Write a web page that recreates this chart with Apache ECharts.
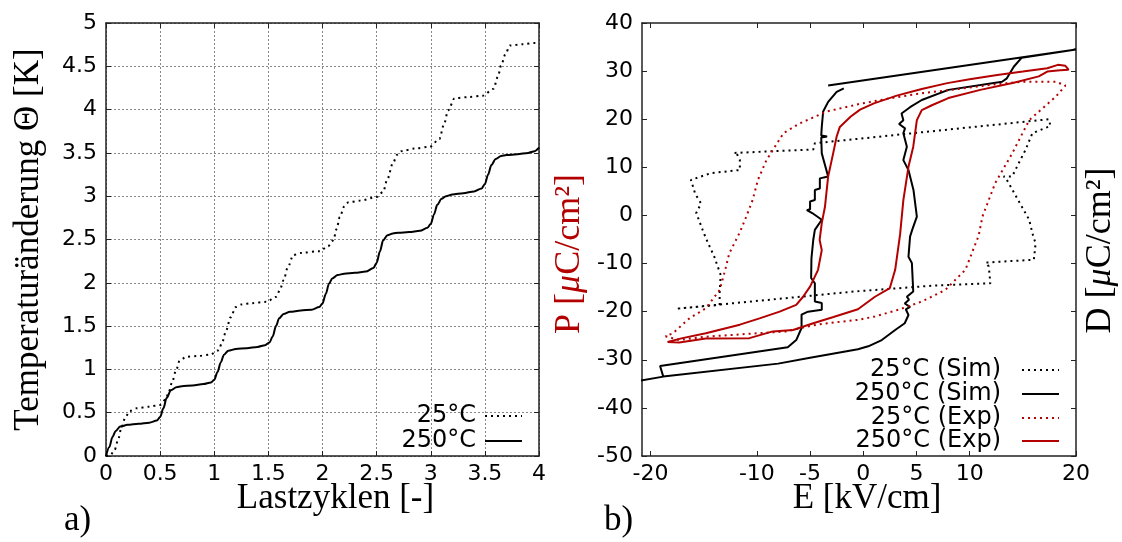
<!DOCTYPE html>
<html>
<head>
<meta charset="utf-8">
<title>Temperatur und Hysterese</title>
<script src="https://cdn.jsdelivr.net/npm/echarts@6/dist/echarts.min.js"></script>
<style>
  html, body { margin: 0; padding: 0; background: #fff; }
  #chart { width: 1122px; height: 542px; }
</style>
</head>
<body>
<div id="chart"></div>
<script>
// a) Temperaturänderung über Lastzyklen
var cycles250 = [0, 0.03, 0.06, 0.09, 0.13, 0.2, 0.3, 0.4, 0.47, 0.5, 0.53, 0.56, 0.6, 0.65, 0.7, 0.8, 0.9, 0.97,
  1.0, 1.03, 1.06, 1.09, 1.13, 1.2, 1.3, 1.4, 1.47, 1.51, 1.54, 1.57, 1.6, 1.64, 1.7, 1.8, 1.9, 1.97,
  2.0, 2.03, 2.06, 2.09, 2.14, 2.2, 2.3, 2.4, 2.47, 2.5, 2.53, 2.56, 2.6, 2.65, 2.7, 2.8, 2.9, 2.97,
  3.0, 3.03, 3.06, 3.1, 3.14, 3.2, 3.3, 3.4, 3.47, 3.5, 3.53, 3.56, 3.6, 3.65, 3.7, 3.8, 3.9, 3.96, 4.0];
var temp250 = [0, 0.1, 0.22, 0.29, 0.34, 0.36, 0.372, 0.385, 0.41, 0.45, 0.55, 0.67, 0.76, 0.795, 0.805, 0.815, 0.83, 0.85,
  0.88, 0.97, 1.08, 1.17, 1.215, 1.235, 1.245, 1.26, 1.28, 1.31, 1.38, 1.5, 1.59, 1.64, 1.665, 1.68, 1.69, 1.72,
  1.76, 1.87, 1.99, 2.05, 2.09, 2.105, 2.115, 2.13, 2.17, 2.23, 2.36, 2.49, 2.55, 2.57, 2.578, 2.586, 2.6, 2.635,
  2.68, 2.79, 2.9, 2.97, 3.0, 3.02, 3.035, 3.055, 3.09, 3.14, 3.25, 3.36, 3.43, 3.465, 3.475, 3.485, 3.5, 3.52, 3.56];

var cycles25 = [0, 0.04, 0.08, 0.11, 0.145, 0.18, 0.22, 0.28, 0.4, 0.5, 0.55, 0.58, 0.61, 0.645, 0.68, 0.74, 0.85, 0.96,
  1.04, 1.075, 1.11, 1.15, 1.2, 1.25, 1.35, 1.48, 1.575, 1.61, 1.64, 1.68, 1.73, 1.8, 1.975,
  2.05, 2.1, 2.13, 2.16, 2.2, 2.24, 2.35, 2.5, 2.56, 2.6, 2.65, 2.69, 2.73, 2.85, 2.99,
  3.08, 3.12, 3.16, 3.22, 3.35, 3.48, 3.58, 3.62, 3.65, 3.69, 3.73, 3.85, 3.97, 4.0];
var temp25 = [0, 0.01, 0.07, 0.18, 0.34, 0.45, 0.52, 0.55, 0.57, 0.59, 0.65, 0.74, 0.85, 0.98, 1.1, 1.145, 1.155, 1.17,
  1.22, 1.32, 1.45, 1.6, 1.72, 1.75, 1.765, 1.78, 1.84, 1.93, 2.03, 2.18, 2.32, 2.345, 2.365,
  2.42, 2.49, 2.62, 2.76, 2.88, 2.93, 2.95, 2.99, 3.05, 3.2, 3.38, 3.48, 3.52, 3.55, 3.57,
  3.66, 3.82, 3.99, 4.13, 4.145, 4.16, 4.24, 4.38, 4.51, 4.64, 4.74, 4.755, 4.77, 4.78];

// b) P/D über E
var simHotE = [-1.83, -2.5, -3.3, -3.77, -3.9, -3.95, -3.4, -3.95, -3.9, -3.3, -4.08, -4.08, -4.55, -4.55, -5.0, -5.0, -5.3, -4.8,
  -3.9, -4.55, -4.7, -4.87, -4.9, -4.55, -4.55, -3.9, -3.9, -5.2, -5.8, -5.8, -6.3, -7.1, -19.1, -18.8, -21.2, -18.8,
  -8.0, -5.0, -0.5, 0.47, 1.74, 3.0, 3.9, 4.25, 4.0, 4.4, 3.9, 4.3, 4.1, 4.7, 4.57, 4.25, 4.4, 4.6, 5.04, 4.72, 4.25,
  3.77, 4.1, 3.77, 3.93, 3.37, 3.77, 3.6, 4.4, 5.5, 8.0, 13.05, 13.5, 14.15, 14.9, 20.0, -3.3];
var simHotP = [26.4, 25.7, 23.6, 21.6, 18.4, 16.6, 16.4, 16.2, 12.9, 8.1, 7.7, 5.6, 5.3, 3.2, 2.9, 1.3, 1.1, 0.5,
  -0.9, -3.0, -5.1, -8.9, -13.0, -14.1, -17.9, -18.2, -19.6, -20.0, -20.6, -23.4, -25.9, -27.4, -31.3, -33.5, -34.4, -33.5,
  -30.8, -29.6, -27.8, -27.2, -25.9, -23.8, -22.4, -20.7, -19.5, -19.0, -18.3, -17.5, -16.9, -15.8, -9.9, -8.6, -4.4, -3.0, -0.25, 5.3, 9.45,
  11.5, 14.3, 17.1, 18.1, 19.0, 19.8, 21.2, 22.5, 24.0, 26.1, 27.8, 28.5, 30.9, 32.8, 34.5, 27.0];

var simColdE = [-12.1, -4.7, -4.55, 17.45, 17.6, 15.9, 15.25, 14.6, 14.0, 13.2, 13.5, 15.6, 15.9, 16.2, 16.04, 11.5, 11.8, 11.95,
  6.45, -0.78, -17.6, -13.5, -13.5, -13.4, -14.0, -14.8, -15.1, -15.7, -15.25, -15.8, -16.2, -14.3, -11.6, -11.6, -11.9, -12.1];
var simColdP = [13.0, 13.7, 15.0, 20.0, 18.6, 17.1, 13.6, 10.8, 8.1, 8.1, 7.4, -0.9, -3.7, -5.8, -9.2, -9.8, -10.6, -14.1,
  -14.6, -15.8, -19.4, -18.6, -15.8, -12.4, -8.6, -4.7, -3.0, 0.5, 2.5, 4.5, 7.4, 8.8, 9.45, 11.5, 12.9, 13.0];

var expColdE = [-18.6, -17.3, -14.8, -10.7, -7.2, -5.3, -3.77, -0.5, 1.1, 3.3, 5.5, 7.7, 9.6, 10.85, 11.2, 12.4, 14.0, 15.6,
  18.1, 19.0, 18.1, 14.9, 11.8, 8.65, 5.5, 2.36, -0.3, -3.45, -6.0, -7.5, -8.3, -9.1, -9.9, -10.4, -11.0, -11.6, -12.6,
  -13.0, -13.5, -14.8, -16.35, -17.9, -18.6];
var expColdP = [-25.1, -25.9, -25.2, -24.6, -24.1, -23.1, -22.5, -21.7, -21.0, -19.6, -17.9, -15.5, -11.3, -4.2, -0.25, 6.7, 12.9, 19.8,
  24.7, 27.0, 27.8, 27.8, 27.1, 26.2, 25.4, 24.3, 23.2, 21.6, 19.1, 17.1, 14.3, 11.5, 7.4, 3.2, -0.25, -3.5, -7.9,
  -11.5, -15.5, -19.3, -21.4, -24.5, -25.1];

var expHotE = [-18.4, -17.3, -14.8, -10.7, -8.5, -6.6, -4.7, -2.8, -0.5, 1.1, 2.5, 3.0, 3.46, 3.77, 4.25, 4.7, 5.04, 5.5,
  6.45, 8.0, 11.0, 14.15, 16.5, 17.3, 18.5, 19.3, 19.0, 18.3, 17.3, 15.0, 12.6, 10.0, 7.9, 5.5, 3.15, 1.0, -0.3, -1.2,
  -2.2, -2.5, -2.83, -3.3, -3.6, -3.9, -4.1, -3.9, -4.25, -5.0, -5.66, -6.3, -7.86, -9.75, -11.6, -14.8, -17.0, -18.4];
var expHotP = [-26.3, -26.4, -25.6, -25.5, -24.1, -23.8, -22.4, -21.1, -19.5, -16.9, -15.1, -11.3, -4.0, 3.2, 10.1, 14.3, 19.8, 21.9,
  22.9, 24.4, 26.1, 27.6, 28.9, 29.9, 30.2, 30.3, 31.1, 31.3, 30.6, 29.9, 29.2, 28.3, 27.5, 26.3, 24.9, 23.3, 22.0, 20.5,
  18.4, 16.4, 12.9, 8.1, 1.8, -1.6, -5.1, -7.2, -11.3, -14.8, -16.9, -18.6, -20.0, -21.4, -22.7, -24.5, -25.5, -26.3];

var eTicks = [-20, -10, -5, 0, 5, 10, 20];

var red = '#b30000';
var tickFont = 'DejaVu Sans';
var serif = 'Liberation Serif';

function zip(a, b) {
  var out = [];
  for (var i = 0; i < a.length; i++) out.push([a[i], b[i]]);
  return out;
}

function frameAxis(extra) {
  var ax = {
    type: 'value',
    axisLine: { show: true, onZero: false, lineStyle: { color: '#222', width: 1.5 } },
    axisTick: { show: true, inside: true, length: 5, lineStyle: { color: '#222', width: 1 } },
    axisLabel: { show: false },
    splitLine: { show: false },
    nameMoveOverlap: false
  };
  for (var k in extra) ax[k] = extra[k];
  return ax;
}

function labelStyle(margin) {
  return { show: true, margin: margin, color: '#000', fontFamily: tickFont, fontSize: 22,
    showMinLabel: true, showMaxLabel: true, hideOverlap: false };
}

var gridLine = { show: true, lineStyle: { color: '#888', width: 1, type: [2, 2] } };

// one legend per row so that the texts line up on the right like in gnuplot
function legendItem(name, right, top, padRight) {
  return {
    data: [name], orient: 'vertical', right: right, top: top, padding: 0,
    align: 'right', itemWidth: 37, itemHeight: 14, selectedMode: false,
    itemStyle: { opacity: 0, borderWidth: 0 },
    textStyle: { fontFamily: tickFont, fontSize: 24, color: '#000', padding: [0, padRight, 0, 0] }
  };
}

var chart = echarts.init(document.getElementById('chart'), null, { renderer: 'canvas' });
chart.setOption({
  animation: false,
  backgroundColor: '#fff',
  title: [
    { text: 'a)', left: 64, top: 503, padding: 0,
      textStyle: { fontFamily: serif, fontSize: 35, fontWeight: 'normal', color: '#000' } },
    { text: 'b)', left: 604, top: 503, padding: 0,
      textStyle: { fontFamily: serif, fontSize: 35, fontWeight: 'normal', color: '#000' } }
  ],
  grid: [
    { left: 106, top: 23, width: 433, height: 433, outerBoundsMode: 'none' },
    { left: 642, top: 23, width: 434, height: 433, outerBoundsMode: 'none' }
  ],
  legend: [
    legendItem('25°C', 599, 404, 4),
    legendItem('250°C', 599, 429, 4),
    legendItem('25°C (Sim)', 62, 358, 16),
    legendItem('250°C (Sim)', 62, 382, 16),
    legendItem('25°C (Exp)', 62, 406, 16),
    legendItem('250°C (Exp)', 62, 429, 16)
  ],
  xAxis: [
    frameAxis({ gridIndex: 0, position: 'bottom', min: 0, max: 4, interval: 0.5,
      axisLabel: labelStyle(7), splitLine: gridLine,
      name: 'Lastzyklen [-]', nameLocation: 'middle', nameGap: 25,
      nameTextStyle: { fontFamily: serif, fontSize: 35, color: '#000', padding: [0, 0, 0, 26] } }),
    frameAxis({ gridIndex: 0, position: 'top', min: 0, max: 4, interval: 0.5 }),
    frameAxis({ gridIndex: 1, position: 'bottom', min: -20.8, max: 20,
      axisTick: { show: true, inside: true, length: 5, customValues: eTicks, lineStyle: { color: '#222', width: 1 } },
      axisLabel: Object.assign(labelStyle(7), { customValues: eTicks }),
      name: 'E [kV/cm]', nameLocation: 'middle', nameGap: 25,
      nameTextStyle: { fontFamily: serif, fontSize: 35, color: '#000', padding: [0, 0, 0, 16] } }),
    frameAxis({ gridIndex: 1, position: 'top', min: -20.8, max: 20,
      axisTick: { show: true, inside: true, length: 5, customValues: eTicks, lineStyle: { color: '#222', width: 1 } } })
  ],
  yAxis: [
    frameAxis({ gridIndex: 0, position: 'left', min: 0, max: 5, interval: 0.5,
      axisLabel: labelStyle(9), splitLine: gridLine,
      name: 'Temperaturänderung Θ [K]', nameLocation: 'middle', nameGap: 60, nameRotate: 90,
      nameTextStyle: { fontFamily: serif, fontSize: 35, color: '#000' } }),
    frameAxis({ gridIndex: 0, position: 'right', min: 0, max: 5, interval: 0.5 }),
    frameAxis({ gridIndex: 1, position: 'left', min: -50, max: 40, interval: 10,
      axisLabel: labelStyle(9),
      name: 'P [{i|μ}C/cm²]', nameLocation: 'middle', nameGap: 54, nameRotate: 90,
      nameTextStyle: { fontFamily: serif, fontSize: 36, color: red, padding: [0, 29, 0, 0],
        rich: { i: { fontFamily: serif, fontSize: 36, fontStyle: 'italic', color: red } } } }),
    frameAxis({ gridIndex: 1, position: 'right', min: -50, max: 40, interval: 10,
      name: 'D [{i|μ}C/cm²]', nameLocation: 'middle', nameGap: 7, nameRotate: 90,
      nameTextStyle: { fontFamily: serif, fontSize: 36, color: '#000', padding: [0, 22, 0, 0],
        rich: { i: { fontFamily: serif, fontSize: 36, fontStyle: 'italic', color: '#000' } } } })
  ],
  series: [
    { name: '25°C', type: 'line', xAxisIndex: 0, yAxisIndex: 0, data: zip(cycles25, temp25),
      symbol: 'none', smooth: 0.3, smoothMonotone: 'x',
      lineStyle: { color: '#000', width: 2, type: [2, 4] }, itemStyle: { color: '#000' } },
    { name: '250°C', type: 'line', xAxisIndex: 0, yAxisIndex: 0, data: zip(cycles250, temp250),
      symbol: 'none', smooth: 0.3, smoothMonotone: 'x',
      lineStyle: { color: '#000', width: 2, type: 'solid' }, itemStyle: { color: '#000' } },
    { name: '25°C (Sim)', type: 'line', xAxisIndex: 2, yAxisIndex: 2, data: zip(simColdE, simColdP),
      symbol: 'none', lineStyle: { color: '#000', width: 2, type: [2, 4] }, itemStyle: { color: '#000' } },
    { name: '250°C (Sim)', type: 'line', xAxisIndex: 2, yAxisIndex: 2, data: zip(simHotE, simHotP),
      symbol: 'none', lineStyle: { color: '#000', width: 2, type: 'solid' }, itemStyle: { color: '#000' } },
    { name: '25°C (Exp)', type: 'line', xAxisIndex: 2, yAxisIndex: 2, data: zip(expColdE, expColdP),
      symbol: 'none', lineStyle: { color: red, width: 2, type: [2, 4] }, itemStyle: { color: red } },
    { name: '250°C (Exp)', type: 'line', xAxisIndex: 2, yAxisIndex: 2, data: zip(expHotE, expHotP),
      symbol: 'none', lineStyle: { color: red, width: 2, type: 'solid' }, itemStyle: { color: red } }
  ]
});
</script>
</body>
</html>
